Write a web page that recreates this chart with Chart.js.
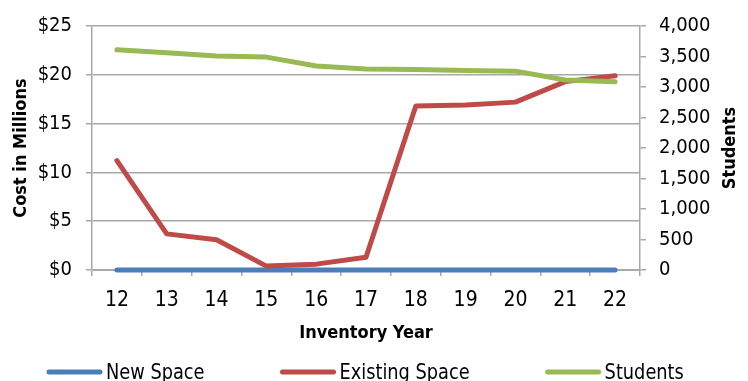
<!DOCTYPE html>
<html>
<head>
<meta charset="utf-8">
<script src="https://cdn.jsdelivr.net/npm/chart.js@4.4.0/dist/chart.umd.min.js"></script>
<style>
  html, body { margin: 0; padding: 0; background: #fff; overflow: hidden; }
  #wrap { position: relative; width: 748px; height: 381px; }
</style>
</head>
<body>
<div id="wrap"><canvas id="chart"></canvas></div>
<script>
// Datos
const years = ["12", "13", "14", "15", "16", "17", "18", "19", "20", "21", "22"];
const newSpace = [0, 0, 0, 0, 0, 0, 0, 0, 0, 0, 0];
const existingSpace = [11.2, 3.7, 3.1, 0.4, 0.6, 1.3, 16.8, 16.9, 17.2, 19.3, 19.9];
const students = [3610, 3560, 3510, 3490, 3345, 3295, 3285, 3270, 3260, 3115, 3085];

const FONT = "'DejaVu Sans Condensed', 'Open Sans', sans-serif";
const GRID = "#a8a8a8";

// leyenda y titulo derecho dibujados a mano (el titulo va girado -90)
const extras = {
  id: "extras",
  afterDraw(chart) {
    const ctx = chart.ctx;
    ctx.save();
    ctx.fillStyle = "#000";
    ctx.font = "bold 18px " + FONT;
    ctx.textAlign = "center";
    ctx.textBaseline = "middle";
    ctx.translate(730, 148);
    ctx.rotate(-Math.PI / 2);
    ctx.fillText("Students", 0, 0);
    ctx.restore();

    ctx.save();
    ctx.font = "21px " + FONT;
    ctx.textBaseline = "alphabetic";
    const sx = 0.94; // texto algo mas estrecho como en el original
    let x = 47;
    const y = 372;
    chart.data.datasets.forEach((ds) => {
      ctx.strokeStyle = ds.borderColor;
      ctx.lineWidth = 5;
      ctx.lineCap = "round";
      ctx.beginPath();
      ctx.moveTo(x + 2, y);
      ctx.lineTo(x + 53, y);
      ctx.stroke();
      ctx.fillStyle = "#000";
      ctx.save();
      ctx.translate(x + 59, 379);
      ctx.scale(sx, 1);
      ctx.fillText(ds.label, 0, 0);
      ctx.restore();
      x += 59 + ctx.measureText(ds.label).width * sx + 76;
    });
    ctx.restore();
  },
};

new Chart(document.getElementById("chart"), {
  type: "line",
  data: {
    labels: years,
    datasets: [
      {
        label: "New Space",
        data: newSpace,
        borderColor: "#4a7ebb",
        backgroundColor: "#4a7ebb",
        borderWidth: 5,
        yAxisID: "y",
        order: 2,
        clip: 6,
      },
      {
        label: "Existing Space",
        data: existingSpace,
        borderColor: "#be4b48",
        backgroundColor: "#be4b48",
        borderWidth: 5,
        yAxisID: "y",
        order: 1,
        clip: 6,
      },
      {
        label: "Students",
        data: students,
        borderColor: "#98b954",
        backgroundColor: "#98b954",
        borderWidth: 5,
        yAxisID: "y1",
        order: 0,
        clip: 6,
      },
    ],
  },
  options: {
    responsive: true,
    maintainAspectRatio: false,
    animation: false,
    layout: { padding: { top: 25, right: 0, bottom: 0, left: 0 } },
    elements: {
      point: { radius: 0 },
      line: { tension: 0, borderCapStyle: "round", borderJoinStyle: "round" },
    },
    plugins: {
      legend: { display: false },
      tooltip: { enabled: false },
    },
    scales: {
      x: {
        type: "category",
        offset: true,
        grid: { drawOnChartArea: false, drawTicks: true, tickLength: 6, color: GRID, offset: true, lineWidth: 1.5 },
        border: { color: GRID, width: 1 },
        ticks: { color: "#000", font: { family: FONT, size: 21 }, padding: 12 },
        title: {
          display: true,
          text: "Inventory Year",
          color: "#000",
          font: { family: FONT, size: 18, weight: "bold" },
          padding: { top: 0, bottom: 37 },
        },
        afterFit(scale) { scale.height = 111; },
      },
      y: {
        position: "left",
        min: 0,
        max: 25,
        ticks: {
          stepSize: 5,
          color: "#000",
          font: { family: FONT, size: 20 },
          padding: 14,
          callback: (v) => "$" + v,
        },
        grid: { color: GRID, tickLength: 6, lineWidth: 1.5 },
        border: { color: GRID, width: 1.5 },
        title: {
          display: true,
          text: "Cost in Millions",
          color: "#000",
          font: { family: FONT, size: 18, weight: "bold" },
          padding: { top: 11, bottom: 0 },
        },
        afterFit(scale) { scale.width = 92; },
      },
      y1: {
        position: "right",
        min: 0,
        max: 4000,
        ticks: {
          stepSize: 500,
          color: "#000",
          font: { family: FONT, size: 20 },
          padding: 13,
          callback: (v) => v.toLocaleString("en-US"),
        },
        grid: { drawOnChartArea: false, color: GRID, tickLength: 6, lineWidth: 1.5 },
        border: { color: GRID, width: 1.5 },
        afterFit(scale) { scale.width = 108; },
      },
    },
  },
  plugins: [extras],
});
</script>
</body>
</html>
